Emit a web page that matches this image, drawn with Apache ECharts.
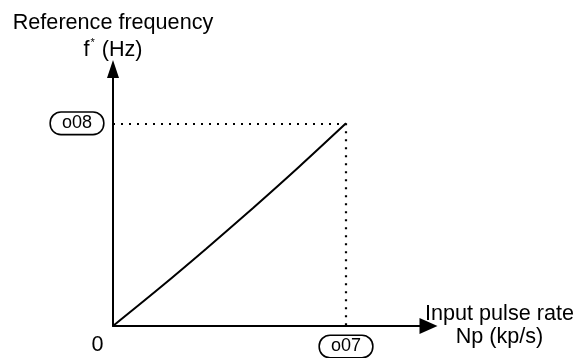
<!DOCTYPE html>
<html>
<head>
<meta charset="utf-8">
<script src="https://cdn.jsdelivr.net/npm/echarts@6/dist/echarts.min.js"></script>
<style>
  html, body { margin: 0; padding: 0; background: #fff; }
  #chart { width: 574px; height: 358px; }
</style>
</head>
<body>
<div id="chart"></div>
<script>
// input pulse rate vs reference frequency (o07 / o08 = 100%)
const pulseRate = [0, 20, 40, 60, 80, 100];
const refFreq = [0, 18.7, 38.1, 58.1, 78.7, 100];
const maxPoint = [100, 100];
const xMarkText = "o07";
const yMarkText = "o08";
const originText = "0";

const font = "'Liberation Sans', Arial, sans-serif";

const chart = echarts.init(document.getElementById("chart"));

const boxLabel = {
  color: "#000",
  fontFamily: font,
  fontSize: 18,
  lineHeight: 17,
  padding: [2, 11],
  borderColor: "#000",
  borderWidth: 1.6,
  borderRadius: 10,
  backgroundColor: "#fff",
  distance: 10,
};

chart.setOption({
  animation: false,
  backgroundColor: "#fff",
  grid: { left: 113, right: 145.5, top: 69, bottom: 32, containLabel: false, outerBoundsMode: "none" },
  xAxis: {
    type: "value",
    min: 0,
    max: 135.4,
    interval: 135.4,
    name: "Input pulse rate\nNp (kp/s)",
    nameLocation: "end",
    nameGap: 71,
    nameTextStyle: {
      color: "#000",
      fontFamily: font,
      fontSize: 21.6,
      lineHeight: 23,
      align: "center",
      verticalAlign: "middle",
      padding: [0, 0, 28, 0],
    },
    axisLine: {
      show: true,
      symbol: ["none", "triangle"],
      symbolSize: [16, 18],
      lineStyle: { color: "#000", width: 2 },
    },
    axisTick: { show: false },
    splitLine: { show: false },
    axisLabel: {
      showMaxLabel: false,
      color: "#000",
      fontFamily: font,
      fontSize: 21.6,
      margin: 8,
      padding: [0, 31, 0, 0],
      formatter: (v) => (v === 0 ? originText : ""),
    },
  },
  yAxis: {
    type: "value",
    min: 0,
    max: 126.8,
    name: "Reference frequency\n{f|f}{sup|*}{f| (Hz)}",
    nameLocation: "end",
    nameGap: 5,
    nameTextStyle: {
      color: "#000",
      fontFamily: font,
      fontSize: 21.6,
      lineHeight: 27,
      align: "center",
      verticalAlign: "bottom",
      rich: {
        f: { color: "#000", fontFamily: font, fontSize: 21.6, lineHeight: 27 },
        sup: { color: "#000", fontFamily: font, fontSize: 11, lineHeight: 27, verticalAlign: "top", padding: [0, 1, 10, 1] },
      },
    },
    axisLine: {
      show: true,
      symbol: ["none", "triangle"],
      symbolSize: [12, 18],
      lineStyle: { color: "#000", width: 2 },
    },
    axisTick: { show: false },
    splitLine: { show: false },
    axisLabel: { show: false },
  },
  series: [
    {
      type: "line",
      data: pulseRate.map((x, i) => [x, refFreq[i]]),
      smooth: 0.3,
      symbol: "none",
      lineStyle: { color: "#000", width: 2 },
      markLine: {
        silent: true,
        symbol: ["none", "none"],
        lineStyle: { color: "#000", width: 2.2, type: [2, 6], cap: "butt" },
        emphasis: { disabled: true },
        data: [
          [
            { coord: [0, maxPoint[1]], label: { ...boxLabel, position: "start", formatter: yMarkText } },
            { coord: maxPoint },
          ],
          [
            { coord: maxPoint },
            { coord: [maxPoint[0], 0], label: { ...boxLabel, position: "end", formatter: xMarkText } },
          ],
        ],
      },
    },
  ],
});
</script>
</body>
</html>
